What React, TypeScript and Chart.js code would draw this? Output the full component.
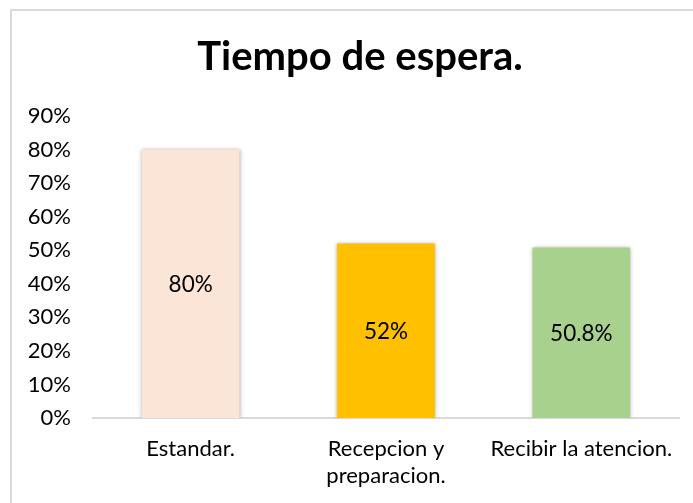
import React, { useEffect, useRef } from "react";
import { Chart, registerables } from "chart.js";

Chart.register(...registerables);

const TITLE = "Tiempo de espera.";
const CATEGORIES: (string | string[])[] = [
  "Estandar.",
  ["Recepcion y", "preparacion."],
  "Recibir la atencion.",
];
const VALUES = [0.8, 0.52, 0.508];
const COLORS = ["#FBE5D6", "#FFC000", "#A9D18E"];
const Y_MIN = 0;
const Y_MAX = 0.9;
const Y_STEP = 0.1;

const FONT = "Lato, 'Open Sans', sans-serif";

const fmtPct = (v: number) => `${+(v * 100).toFixed(1)}%`;

export default function App() {
  const ref = useRef<HTMLCanvasElement | null>(null);

  useEffect(() => {
    document.body.style.margin = "0";
    const canvas = ref.current;
    if (!canvas) return;

    const barPlugin = {
      id: "barDecor",
      beforeDatasetsDraw(chart: any) {
        const ctx = chart.ctx;
        ctx.save();
        ctx.shadowColor = "rgba(0,0,0,0.35)";
        ctx.shadowBlur = 4;
        ctx.shadowOffsetX = 0;
        ctx.shadowOffsetY = 0;
      },
      afterDatasetsDraw(chart: any) {
        const ctx = chart.ctx;
        ctx.restore();
        const meta = chart.getDatasetMeta(0);
        ctx.save();
        ctx.font = `22.5px ${FONT}`;
        ctx.fillStyle = "#000000";
        ctx.textAlign = "center";
        ctx.textBaseline = "middle";
        meta.data.forEach((bar: any, i: number) => {
          const { x, y, base } = bar.getProps(["x", "y", "base"], true);
          ctx.fillText(fmtPct(VALUES[i]), x, (y + base) / 2 + 1);
        });
        ctx.restore();
      },
      afterDraw(chart: any) {
        const ctx = chart.ctx;
        ctx.save();
        ctx.font = `bold 40px ${FONT}`;
        ctx.fillStyle = "#000000";
        ctx.textAlign = "center";
        ctx.textBaseline = "alphabetic";
        ctx.fillText(TITLE, 360, 70);
        ctx.restore();
      },
    };

    const chart = new Chart(canvas, {
      type: "bar",
      data: {
        labels: CATEGORIES,
        datasets: [
          {
            data: VALUES,
            backgroundColor: COLORS,
            borderWidth: 0,
            categoryPercentage: 1,
            barPercentage: 0.5,
          },
        ],
      },
      options: {
        animation: false,
        responsive: false,
        maintainAspectRatio: false,
        layout: { padding: { left: 0, right: 14, top: 116, bottom: 0 } },
        plugins: {
          legend: { display: false },
          tooltip: { enabled: false },
          title: { display: false },
        },
        scales: {
          x: {
            grid: { display: false, drawTicks: false },
            border: { display: true, color: "#D9D9D9", width: 2 },
            ticks: {
              color: "#000000",
              font: { family: FONT, size: 22, lineHeight: 1.25 },
              padding: 17,
              maxRotation: 0,
              autoSkip: false,
            },
            afterFit(scale: any) {
              scale.height = 85;
            },
          },
          y: {
            min: Y_MIN,
            max: Y_MAX,
            grid: { display: false, drawTicks: false },
            border: { display: false },
            ticks: {
              stepSize: Y_STEP,
              color: "#000000",
              font: { family: FONT, size: 22 },
              padding: 22,
              callback: (v: any) => `${Math.round(Number(v) * 100)}%`,
            },
            afterFit(scale: any) {
              scale.width = 93;
            },
          },
        },
      },
      plugins: [barPlugin],
    });

    return () => chart.destroy();
  }, []);

  return (
    <div
      style={{
        position: "relative",
        width: 693,
        height: 503,
        overflow: "hidden",
        background: "#ffffff",
      }}
    >
      <div
        style={{
          position: "absolute",
          left: 10,
          top: 9,
          width: 720,
          height: 540,
          borderTop: "2px solid #D9D9D9",
          borderLeft: "2px solid #D9D9D9",
        }}
      />
      <canvas
        ref={ref}
        width={693}
        height={503}
        style={{ position: "absolute", left: 0, top: 0, width: 693, height: 503 }}
      />
    </div>
  );
}
